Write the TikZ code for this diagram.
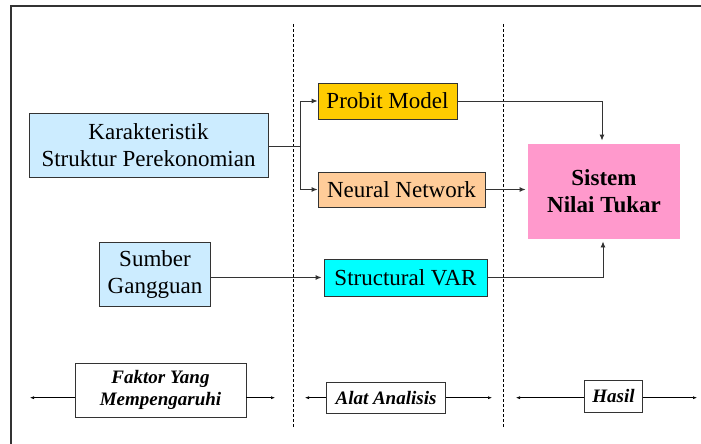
\documentclass[tikz,border=0pt]{standalone}
\usepackage{fontspec}
\setmainfont{Liberation Serif}
\newfontfamily\tms{Liberation Serif}
\usetikzlibrary{arrows.meta,calc}
\definecolor{lblue}{HTML}{CCECFF}
\definecolor{gold}{HTML}{FFCC00}
\definecolor{peach}{HTML}{FFCC99}
\definecolor{pinkb}{HTML}{FF99CC}
\definecolor{cyanb}{HTML}{00FFFF}
\definecolor{edge}{HTML}{333333}
\tikzset{
  box/.style={draw=edge, line width=0.9pt, inner sep=0pt, align=center,
    font=\tms\fontsize{23}{27}\selectfont},
  lbl/.style={draw=edge, line width=0.9pt, inner sep=0pt, align=center, fill=white,
    font=\tms\fontsize{19}{22}\selectfont\bfseries\itshape},
  conn/.style={draw=edge, line width=0.9pt, -{Latex[length=6pt,width=5pt]}},
  thinarrow/.style={draw=black, line width=0.6pt, -{Latex[length=4pt,width=3pt]}},
  divider/.style={draw=black, line width=0.6pt, dash pattern=on 3pt off 2pt},
}
\begin{document}
\begin{tikzpicture}[x=1pt,y=-1pt]
\useasboundingbox (0,0) rectangle (701,444);
\draw[draw=edge, line width=1.2pt] (11,444) -- (11,6) -- (701,6);
\draw[divider] (293,24) -- (293,427);
\draw[divider] (503,24) -- (503,427);

\node[box, fill=lblue, minimum width=239pt, minimum height=64pt] (kar) at (148.5,145) {Karakteristik\\Struktur Perekonomian};
\node[box, fill=gold, minimum width=139pt, minimum height=36pt] (probit) at (387.5,101) {Probit Model};
\node[box, fill=peach, minimum width=167pt, minimum height=35pt] (neural) at (401.5,189.5) {Neural Network};
\node[box, draw=none, fill=pinkb, minimum width=152pt, minimum height=95pt, font=\tms\fontsize{23}{27}\selectfont\bfseries] (sistem) at (604,191.5) {Sistem\\Nilai Tukar};
\node[box, fill=lblue, minimum width=111pt, minimum height=64pt] (sumber) at (155,274) {Sumber\\Gangguan};
\node[box, fill=cyanb, minimum width=163pt, minimum height=37pt] (svar) at (405.5,277.5) {Structural VAR};

\node[lbl, minimum width=171pt, minimum height=54pt] (faktor) at (160.5,390) {Faktor Yang\\Mempengaruhi};
\node[lbl, minimum width=119pt, minimum height=31pt] (alat) at (386,397.7) {Alat Analisis};
\node[lbl, minimum width=58pt, minimum height=32pt] (hasil) at (613.5,396) {Hasil};

\coordinate (split) at (300,146);
\draw[draw=edge, line width=0.9pt] (kar.east |- split) -- (split);
\draw[conn] (split) |- (probit.west);
\draw[conn] (split) |- (neural.west);
\draw[conn, shorten >=3pt] (probit.east) -| ($(sistem.north)+(-2,0)$);
\draw[conn, shorten >=2pt] (neural.east) -- (neural.east -| sistem.west);
\draw[conn, shorten >=2pt] (sumber.east |- svar.west) -- (svar.west);
\draw[conn, shorten >=2pt] (svar.east) -| ($(sistem.south)+(-1,0)$);

\coordinate (fl) at (30,397.7);
\coordinate (fr) at (275,397.7);
\coordinate (al) at (305,397.7);
\coordinate (ar) at (492,397.7);
\coordinate (hl) at (516,397.7);
\coordinate (hr) at (697,397.7);
\draw[thinarrow] (faktor.west |- fl) -- (fl);
\draw[thinarrow] (faktor.east |- fr) -- (fr);
\draw[thinarrow] (alat.west |- al) -- (al);
\draw[thinarrow] (alat.east |- ar) -- (ar);
\draw[thinarrow] (hasil.west |- hl) -- (hl);
\draw[thinarrow] (hasil.east |- hr) -- (hr);
\end{tikzpicture}
\end{document}
